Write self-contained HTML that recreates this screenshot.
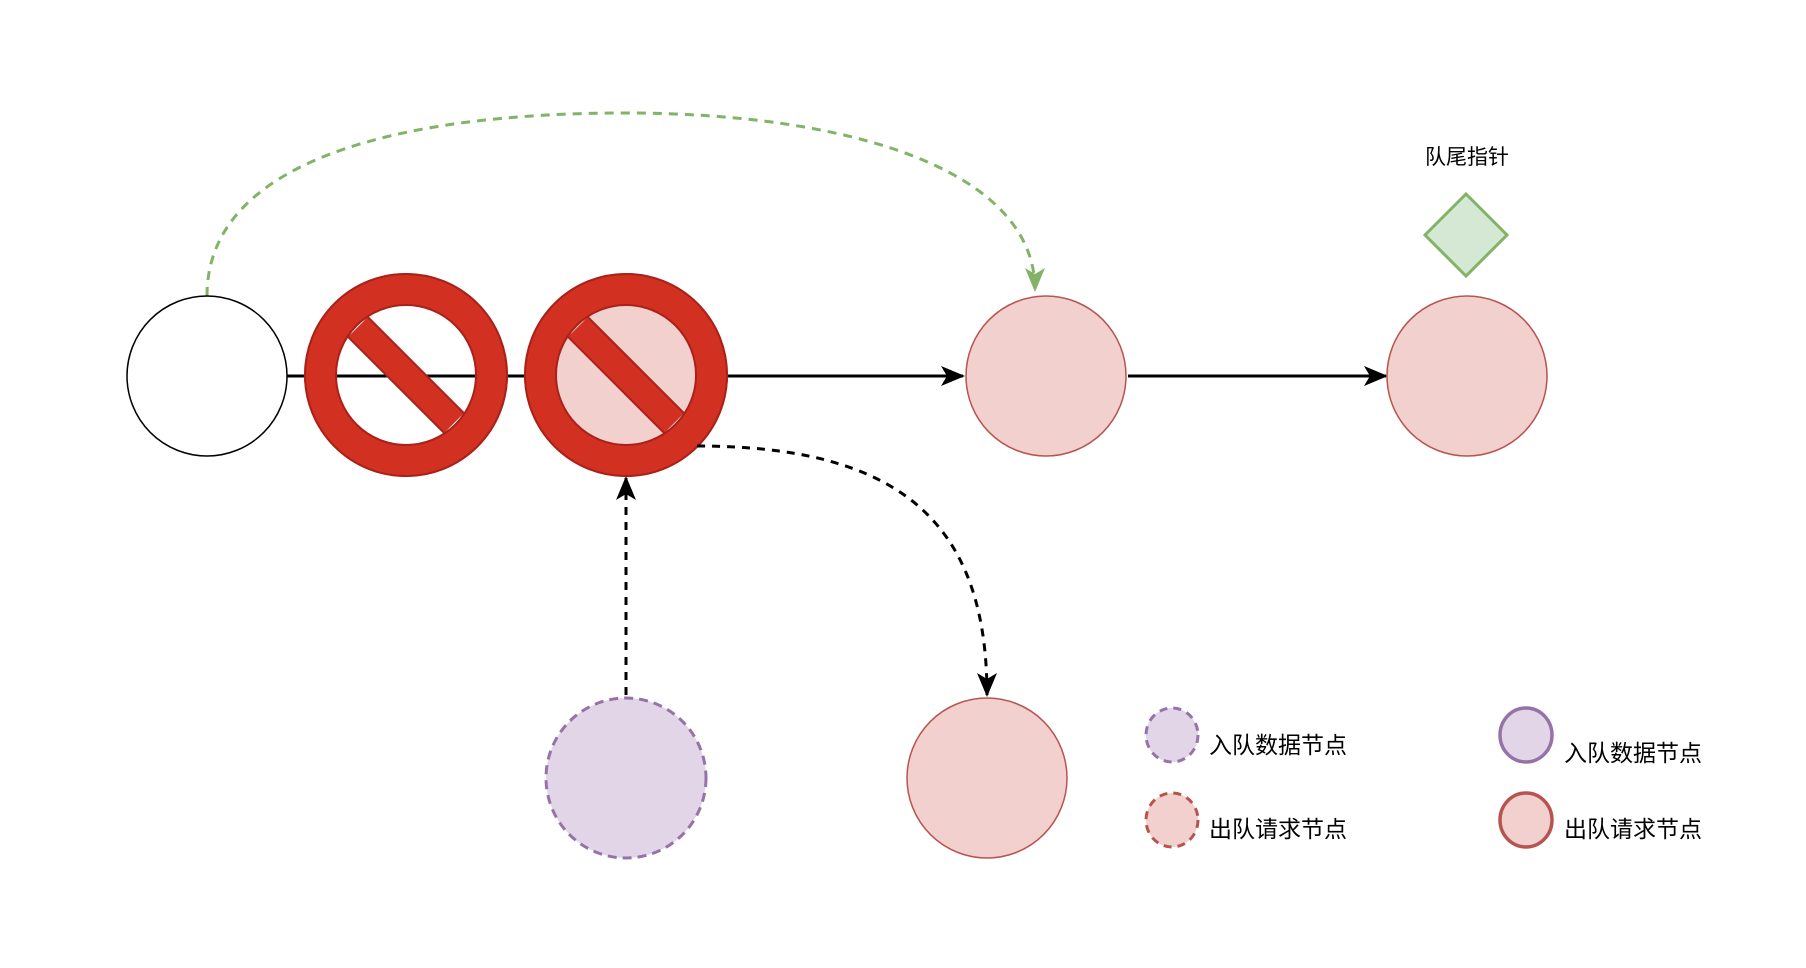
<!DOCTYPE html>
<html><head><meta charset="utf-8"><style>html,body{margin:0;padding:0;background:#fff}svg{display:block}</style></head>
<body>
<svg width="1806" height="968" viewBox="0 0 1806 968" xmlns="http://www.w3.org/2000/svg" font-family="'Liberation Sans','Noto Sans CJK SC',sans-serif">
<defs>
<marker id="abig" markerWidth="24" markerHeight="24" refX="22" refY="12" orient="auto" markerUnits="userSpaceOnUse"><path d="M0,2 L24,12 L0,22 L6,12 Z" fill="#000"/></marker>
<marker id="ag" markerWidth="24" markerHeight="24" refX="22" refY="12" orient="auto" markerUnits="userSpaceOnUse"><path d="M0,2 L24,12 L0,22 L6,12 Z" fill="#82b366"/></marker>
</defs>
<line x1="287" y1="376" x2="963" y2="376" stroke="#000" stroke-width="3" marker-end="url(#abig)"/>
<line x1="1128" y1="376" x2="1386" y2="376" stroke="#000" stroke-width="3" marker-end="url(#abig)"/>
<path d="M207,296 C207,160 400,113 625,113 C850,113 1035,170 1035,290" fill="none" stroke="#82b366" stroke-width="3" stroke-dasharray="9,7" marker-end="url(#ag)"/>
<circle cx="207" cy="376" r="80" fill="#fff" stroke="#000" stroke-width="1.5"/>
<circle cx="1046" cy="376" r="80" fill="#f2d0ce" stroke="#b85450" stroke-width="1.5"/>
<circle cx="1467" cy="376" r="80" fill="#f2d0ce" stroke="#b85450" stroke-width="1.5"/>
<polygon points="1466,194 1507,235 1466,276 1425,235" fill="#d5e8d4" stroke="#82b366" stroke-width="3"/>
<text x="1467" y="164" font-size="21" text-anchor="middle">队尾指针</text>
<g>
<circle cx="406" cy="375" r="86" fill="none" stroke="#d23021" stroke-width="32"/>
<circle cx="406" cy="375" r="101" fill="none" stroke="#a8221a" stroke-width="2"/>
<circle cx="406" cy="375" r="70" fill="none" stroke="#a8221a" stroke-width="2"/>
<line x1="358" y1="327" x2="454" y2="423" stroke="#a8221a" stroke-width="30"/>
<line x1="358" y1="327" x2="454" y2="423" stroke="#d23021" stroke-width="26"/>
</g>
<g>
<circle cx="626" cy="375" r="70" fill="#f2d0ce"/>
<circle cx="626" cy="375" r="86" fill="none" stroke="#d23021" stroke-width="32"/>
<circle cx="626" cy="375" r="101" fill="none" stroke="#a8221a" stroke-width="2"/>
<circle cx="626" cy="375" r="70" fill="none" stroke="#a8221a" stroke-width="2"/>
<line x1="578" y1="327" x2="674" y2="423" stroke="#a8221a" stroke-width="30"/>
<line x1="578" y1="327" x2="674" y2="423" stroke="#d23021" stroke-width="26"/>
</g>
<path d="M697,446 C897,446 987,520 987,695" fill="none" stroke="#000" stroke-width="3" stroke-dasharray="8,7" marker-end="url(#abig)"/>
<line x1="626" y1="695" x2="626" y2="478" stroke="#000" stroke-width="3" stroke-dasharray="8,7" marker-end="url(#abig)"/>
<circle cx="626" cy="778" r="80" fill="#e1d5e7" stroke="#9673a6" stroke-width="3" stroke-dasharray="9,6"/>
<circle cx="987" cy="778" r="80" fill="#f2d0ce" stroke="#b85450" stroke-width="1.5"/>
<ellipse cx="1172" cy="735" rx="26" ry="27" fill="#e1d5e7" stroke="#9673a6" stroke-width="3" stroke-dasharray="8,6"/>
<ellipse cx="1172" cy="820" rx="26" ry="27" fill="#f2d0ce" stroke="#b85450" stroke-width="3" stroke-dasharray="8,6"/>
<ellipse cx="1526" cy="735" rx="26" ry="27" fill="#e1d5e7" stroke="#9673a6" stroke-width="3.5"/>
<ellipse cx="1526" cy="820" rx="26" ry="27" fill="#f2d0ce" stroke="#b85450" stroke-width="3.5"/>
<text x="1209" y="753" font-size="23">入队数据节点</text>
<text x="1209" y="837" font-size="23">出队请求节点</text>
<text x="1564" y="761" font-size="23">入队数据节点</text>
<text x="1564" y="837" font-size="23">出队请求节点</text>
</svg>
</body></html>
